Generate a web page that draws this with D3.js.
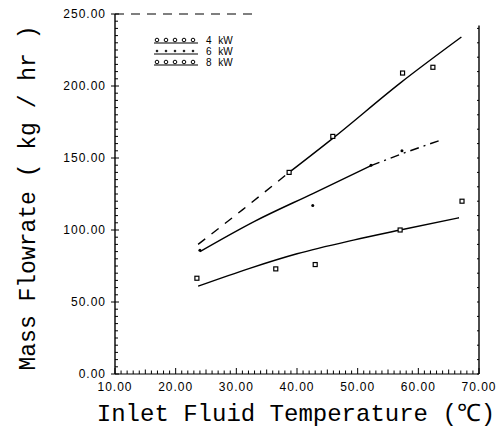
<!DOCTYPE html>
<html>
<head>
<meta charset="utf-8">
<script src="https://cdn.jsdelivr.net/npm/d3@7"></script>
<style>
  body { margin: 0; background: #fff; }
  svg { display: block; }
  .tick-label { font-family: 'Liberation Sans', Arial, sans-serif; font-size: 12px; letter-spacing: 1px; fill: #000; }
  .axis-title { font-family: 'Liberation Mono', 'DejaVu Sans Mono', monospace; font-size: 23px; fill: #000; }
  .legend-text { font-family: 'Liberation Sans', Arial, sans-serif; font-size: 10px; word-spacing: 4px; fill: #000; }
</style>
</head>
<body>
<div id="chart"></div>
<script>
const temps4 = [23.5, 36.5, 43.0, 57.0, 67.2];
const flow4 = [66.5, 73, 76, 100, 120];
const temps6 = [24.0, 42.6, 52.2, 57.3];
const flow6 = [86, 117, 145, 155];
const temps8 = [38.7, 45.9, 57.4, 62.4];
const flow8 = [140, 165, 209, 213];

// fitted curves
const fitTemps4 = [23.7, 32.2, 40.0, 49.3, 57.0, 66.7];
const fitFlow4 = [61, 73.4, 83.5, 93, 100, 108.5];
const fitTemps6 = [24.0, 33.0, 42.7, 52.2, 58.0, 64.1];
const fitFlow6 = [85, 106, 125.5, 144.7, 154, 163];
const fitTemps8 = [23.7, 31.0, 38.7, 46.0, 57.0, 67.1];
const fitFlow8 = [90, 114, 140, 164, 202, 234];

const legendLabels = ['4 kW', '6 kW', '8 kW'];
const xTicks = [10, 20, 30, 40, 50, 60, 70];
const yTicks = [0, 50, 100, 150, 200, 250];

const width = 503, height = 437;
const svg = d3.select('#chart').append('svg')
  .attr('width', width)
  .attr('height', height);

const x = d3.scaleLinear().domain([10, 70]).range([115, 479]);
const y = d3.scaleLinear().domain([0, 250]).range([374, 14]);
const fmt = d3.format('.2f');

// frame
svg.append('line')
  .attr('x1', x(10)).attr('x2', x(10)).attr('y1', y(0)).attr('y2', y(250))
  .attr('stroke', '#000').attr('stroke-width', 1.4);
svg.append('line')
  .attr('x1', x(70)).attr('x2', x(70)).attr('y1', y(0)).attr('y2', y(242))
  .attr('stroke', '#000').attr('stroke-width', 1.4);
svg.append('line')
  .attr('x1', x(10)).attr('x2', x(70)).attr('y1', y(0)).attr('y2', y(0))
  .attr('stroke', '#000').attr('stroke-width', 1.2);
// top edge mostly faded in the scan
svg.append('line')
  .attr('x1', x(10)).attr('x2', x(33)).attr('y1', y(250)).attr('y2', y(250))
  .attr('stroke', '#000').attr('stroke-width', 1.1)
  .attr('stroke-dasharray', '9,7');

// x ticks (inward, minor every 1)
svg.append('g')
  .selectAll('line')
  .data(d3.range(10, 70.01, 1))
  .join('line')
  .attr('x1', d => x(d)).attr('x2', d => x(d))
  .attr('y1', y(0))
  .attr('y2', d => y(0) - (d % 10 === 0 ? 6 : (d % 5 === 0 ? 4.5 : 3.5)))
  .attr('stroke', '#000').attr('stroke-width', 1);

svg.append('g')
  .selectAll('text')
  .data(xTicks)
  .join('text')
  .attr('class', 'tick-label')
  .attr('x', d => x(d))
  .attr('y', 391)
  .attr('text-anchor', 'middle')
  .text(d => fmt(d));

// y ticks (inward, minor every 5)
svg.append('g')
  .selectAll('line')
  .data(d3.range(0, 250.01, 5))
  .join('line')
  .attr('x1', d => d % 50 === 0 ? x(10) - 4 : x(10))
  .attr('x2', d => x(10) + (d % 50 === 0 ? 4 : 3))
  .attr('y1', d => y(d)).attr('y2', d => y(d))
  .attr('stroke', '#000').attr('stroke-width', 1);

// right edge ticks
svg.append('g')
  .selectAll('line')
  .data(d3.range(0, 240.01, 10))
  .join('line')
  .attr('x1', x(70) - 2).attr('x2', x(70))
  .attr('y1', d => y(d)).attr('y2', d => y(d))
  .attr('stroke', '#000').attr('stroke-width', 1);

svg.append('g')
  .selectAll('text')
  .data(yTicks)
  .join('text')
  .attr('class', 'tick-label')
  .attr('x', 106)
  .attr('y', d => y(d) + 4)
  .attr('text-anchor', 'end')
  .text(d => fmt(d));

// axis titles
svg.append('text')
  .attr('class', 'axis-title')
  .style('font-size', '24px')
  .attr('x', 296)
  .attr('y', 421)
  .attr('text-anchor', 'middle')
  .text('Inlet Fluid Temperature (℃)');

svg.append('text')
  .attr('class', 'axis-title')
  .attr('transform', 'translate(35,198) rotate(-90)')
  .attr('text-anchor', 'middle')
  .text('Mass Flowrate ( kg / hr )');

// curves
const line = d3.line()
  .x(d => x(d[0]))
  .y(d => y(d[1]))
  .curve(d3.curveMonotoneX);

function drawFit(temps, flows, from, to, dash) {
  const pts = d3.zip(temps, flows).filter(p => p[0] >= from && p[0] <= to);
  svg.append('path')
    .datum(pts)
    .attr('d', line)
    .attr('fill', 'none')
    .attr('stroke', '#000')
    .attr('stroke-width', 1.4)
    .attr('stroke-dasharray', dash);
}

drawFit(fitTemps4, fitFlow4, 0, 100, null);
drawFit(fitTemps6, fitFlow6, 0, 52.2, null);
drawFit(fitTemps6, fitFlow6, 52.2, 100, '9,5,2,5');
drawFit(fitTemps8, fitFlow8, 0, 38.7, '9,8');
drawFit(fitTemps8, fitFlow8, 38.7, 100, null);

// markers
function squares(temps, flows) {
  svg.append('g')
    .selectAll('rect')
    .data(d3.zip(temps, flows))
    .join('rect')
    .attr('x', d => x(d[0]) - 2)
    .attr('y', d => y(d[1]) - 2)
    .attr('width', 4).attr('height', 4)
    .attr('fill', '#fff')
    .attr('stroke', '#000')
    .attr('stroke-width', 1.2);
}
squares(temps4, flow4);
squares(temps8, flow8);

svg.append('g')
  .selectAll('circle')
  .data(d3.zip(temps6, flow6))
  .join('circle')
  .attr('cx', d => x(d[0]))
  .attr('cy', d => y(d[1]))
  .attr('r', 1.5)
  .attr('fill', '#000');

// legend
const legend = svg.append('g');
legendLabels.forEach((label, i) => {
  const ly = 40 + i * 11;
  const g = legend.append('g');
  g.append('line')
    .attr('x1', 154).attr('x2', 198)
    .attr('y1', ly + 3).attr('y2', ly + 3)
    .attr('stroke', '#000').attr('stroke-width', 1.2);
  g.selectAll('circle')
    .data(d3.range(5))
    .join('circle')
    .attr('cx', k => 157 + k * 9)
    .attr('cy', ly)
    .attr('r', i === 1 ? 1 : 1.8)
    .attr('fill', i === 1 ? '#000' : 'none')
    .attr('stroke', '#000')
    .attr('stroke-width', i === 1 ? 0.5 : 1);
  g.append('text')
    .attr('class', 'legend-text')
    .attr('x', 206)
    .attr('y', ly + 4)
    .text(label);
});
</script>
</body>
</html>
